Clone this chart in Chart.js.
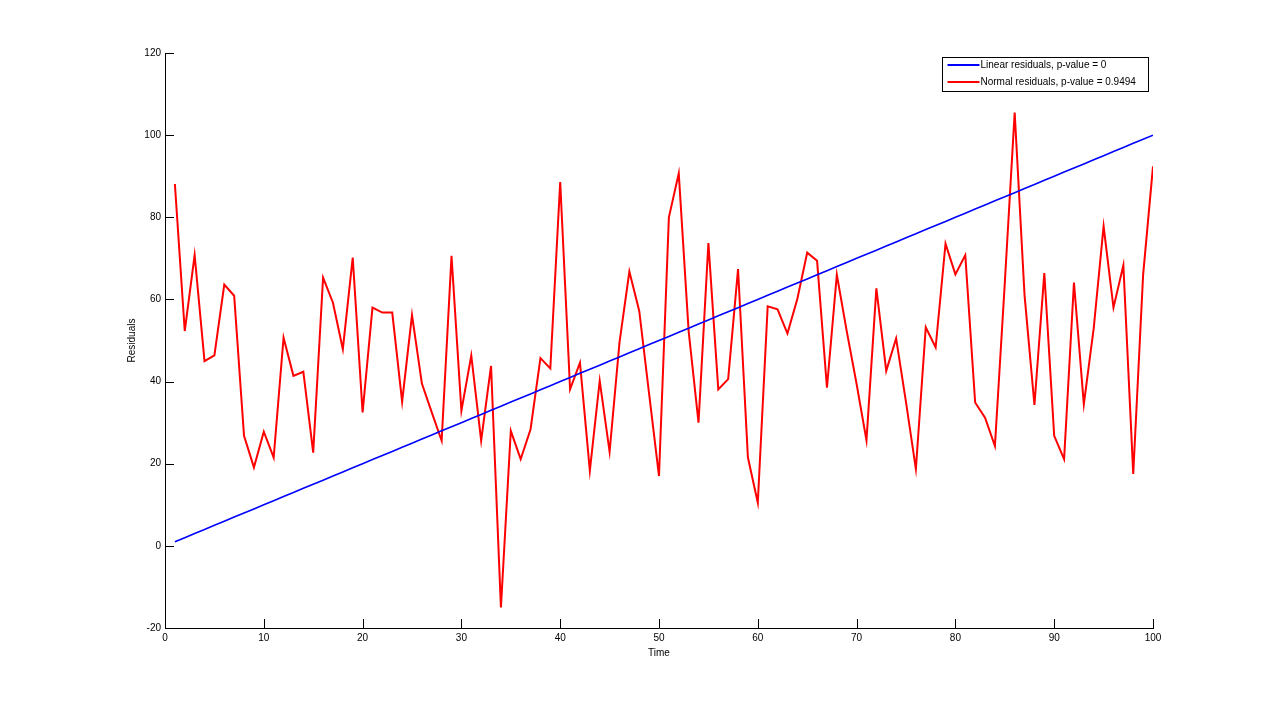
<!DOCTYPE html>
<html>
<head>
<meta charset="utf-8">
<script src="https://cdn.jsdelivr.net/npm/chart.js@4.4.1/dist/chart.umd.min.js"></script>
<style>
  html, body { margin: 0; padding: 0; background: #fff; }
  #wrap { width: 1273px; height: 707px; }
</style>
</head>
<body>
<div id="wrap"><canvas id="graph"></canvas></div>
<script>
// values
var timeValues = [];
for (var i = 1; i <= 100; i++) timeValues.push(i);

var linearResiduals = [1,2,3,4,5,6,7,8,9,10,11,12,13,14,15,16,17,18,19,20,
  21,22,23,24,25,26,27,28,29,30,31,32,33,34,35,36,37,38,39,40,
  41,42,43,44,45,46,47,48,49,50,51,52,53,54,55,56,57,58,59,60,
  61,62,63,64,65,66,67,68,69,70,71,72,73,74,75,76,77,78,79,80,
  81,82,83,84,85,86,87,88,89,90,91,92,93,94,95,96,97,98,99,100];

var normalResiduals = [88.1,52.3,70.8,45.0,46.4,63.6,60.9,26.8,19.1,27.8,
  21.5,50.7,41.4,42.4,22.7,65.3,59.2,47.9,70.2,32.5,
  58.0,56.8,56.8,35.1,56.2,39.5,32.5,25.6,70.6,32.9,
  46.3,25.6,43.8,-15.0,28.0,21.1,28.4,45.7,43.2,88.6,
  38.1,44.6,18.3,40.2,22.9,49.5,66.8,57.2,37.0,17.0,
  80.0,90.7,52.3,30.0,73.7,38.1,40.6,67.4,21.5,10.5,
  58.3,57.6,51.7,60.1,71.4,69.4,38.5,66.0,52.3,39.4,
  25.7,62.7,42.6,50.5,35.0,18.7,53.2,48.3,73.6,66.1,
  70.8,34.9,31.2,24.3,64.0,105.5,61.0,34.3,66.4,26.8,
  21.1,64.1,34.5,53.0,77.8,58.0,68.3,17.5,66.0,92.4];

var seriesLabels = ['Linear residuals, p-value = 0', 'Normal residuals, p-value = 0.9494'];
var seriesColors = ['#0000ff', '#ff0000'];

function toPoints(ys) {
  return ys.map(function (y, k) { return {x: timeValues[k], y: y}; });
}

var FONT = {family: 'Liberation Sans, Arial, sans-serif', size: 10};

// inward ticks + legend box
var matlabLook = {
  id: 'matlabLook',
  afterDraw: function (chart) {
    var c = chart.ctx, a = chart.chartArea;
    var xs = chart.scales.x, ys = chart.scales.y;
    c.save();
    c.strokeStyle = '#000';
    c.lineWidth = 1;
    c.beginPath();
    xs.ticks.forEach(function (t) {
      var px = Math.round(xs.getPixelForValue(t.value)) + 0.5;
      c.moveTo(px, a.bottom);
      c.lineTo(px, a.bottom - 9);
    });
    ys.ticks.forEach(function (t) {
      var py = Math.round(ys.getPixelForValue(t.value)) + 0.5;
      c.moveTo(a.left, py);
      c.lineTo(a.left + 9, py);
    });
    c.stroke();

    // legend
    var bx = 942.5, by = 57.5, bw = 206, bh = 34;
    c.fillStyle = '#fff';
    c.fillRect(bx, by, bw, bh);
    c.strokeRect(bx, by, bw, bh);
    c.font = '10px ' + FONT.family;
    c.textBaseline = 'middle';
    chart.data.datasets.forEach(function (ds, k) {
      var ly = by + 7.5 + k * 17;
      c.strokeStyle = ds.borderColor;
      c.lineWidth = 2;
      c.beginPath();
      c.moveTo(bx + 5, ly);
      c.lineTo(bx + 37, ly);
      c.stroke();
      c.fillStyle = '#000';
      c.fillText(ds.label, bx + 38, ly);
    });
    c.restore();
  }
};

new Chart('graph', {
  type: 'line',
  data: {
    datasets: [{
      label: seriesLabels[0],
      data: toPoints(linearResiduals),
      borderColor: seriesColors[0],
      borderWidth: 1.6,
      pointRadius: 0,
      tension: 0
    }, {
      label: seriesLabels[1],
      data: toPoints(normalResiduals),
      borderColor: seriesColors[1],
      borderWidth: 2,
      pointRadius: 0,
      tension: 0
    }]
  },
  options: {
    responsive: true,
    maintainAspectRatio: false,
    animation: false,
    layout: {padding: {left: 126, right: 120, top: 53, bottom: 48}},
    plugins: {legend: {display: false}, tooltip: {enabled: false}},
    scales: {
      x: {
        type: 'linear',
        min: 0, max: 100,
        grid: {display: false, drawTicks: false},
        border: {display: true, color: '#000', width: 1},
        ticks: {stepSize: 10, color: '#000', font: FONT, padding: 4, maxRotation: 0},
        title: {display: true, text: 'Time', color: '#000', font: FONT, padding: 0},
        afterFit: function (s) { s.height = 31; }
      },
      y: {
        min: -20, max: 120,
        grid: {display: false, drawTicks: false},
        border: {display: true, color: '#000', width: 1},
        ticks: {stepSize: 20, color: '#000', font: FONT, padding: 4},
        title: {display: true, text: 'Residuals', color: '#000', font: FONT, padding: 0},
        afterFit: function (s) { s.width = 39; }
      }
    }
  },
  plugins: [matlabLook]
});
</script>
</body>
</html>
